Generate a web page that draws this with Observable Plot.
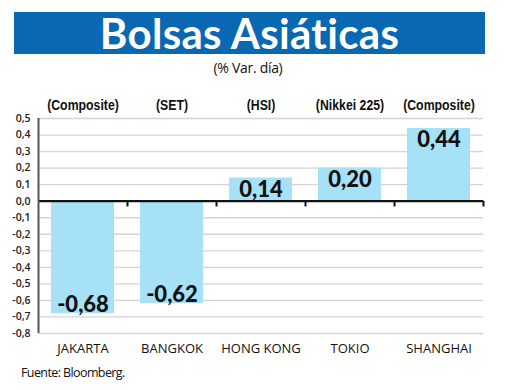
<!DOCTYPE html>
<html><head><meta charset="utf-8">
<script src="https://cdn.jsdelivr.net/npm/d3@7"></script>
<script src="https://cdn.jsdelivr.net/npm/@observablehq/plot@0.6"></script>
<style>
body{margin:0;background:#fff;}
#wrap{position:relative;width:520px;height:390px;overflow:hidden;font-family:"Open Sans",sans-serif;}
#banner{position:absolute;left:14px;top:12px;width:471px;height:42px;background:#0a68b2;color:#fff;text-align:center;font:bold 42px/42px Lato,"Open Sans",sans-serif;letter-spacing:0.3px;}
#sub{position:absolute;left:0;width:496px;top:58px;text-align:center;font:14px "Open Sans",sans-serif;color:#111;letter-spacing:-0.3px;}
#chart{position:absolute;left:0;top:80px;}
#src{position:absolute;left:21px;top:364px;font:12.5px "Open Sans",sans-serif;letter-spacing:-0.6px;color:#111;}
</style></head>
<body><div id="wrap">
<div id="banner">Bolsas Asiáticas</div>
<div id="sub">(% Var. día)</div>
<div id="chart"></div>
<div id="src">Fuente: Bloomberg.</div>
</div>
<script>
const markets = ["JAKARTA","BANGKOK","HONG KONG","TOKIO","SHANGHAI"];
const indices = ["(Composite)","(SET)","(HSI)","(Nikkei 225)","(Composite)"];
const values = [-0.68,-0.62,0.14,0.20,0.44];
const yTicks = [0.5,0.4,0.3,0.2,0.1,0,-0.1,-0.2,-0.3,-0.4,-0.5,-0.6,-0.7,-0.8];

const data = markets.map((m,i)=>({market:m, index:indices[i], value:values[i]}));
const fmt = v => (v<0?"-":"") + Math.abs(v).toFixed(1).replace(".",",");
const fmt2 = v => (v<0?"-":"") + Math.abs(v).toFixed(2).replace(".",",");

const W=520, ML=38, MR=37;
const band=(W-ML-MR)/markets.length;
const valFont = {fontSize:22, fontWeight:"900", fill:"#111", fontFamily:"Lato,sans-serif"};

const chart = Plot.plot({
  width: W, height: 282,
  marginLeft: ML, marginRight: MR, marginTop: 38, marginBottom: 29,
  style:{fontFamily:"'Open Sans',sans-serif", background:"transparent"},
  x:{domain: markets, paddingInner:0, paddingOuter:0},
  y:{domain:[-0.8,0.5]},
  marks:[
    Plot.gridY(yTicks,{stroke:"#d4d4d4", strokeOpacity:1, strokeWidth:1.3}),
    Plot.barY(data,{x:"market", y:"value", fill:"#a6e1f7", insetLeft:13, insetRight:13}),
    Plot.ruleX(markets,{x:d=>d, dx:band/2, y1:0, y2:-0.035, stroke:"#111", strokeWidth:2}),
    Plot.ruleY([0],{stroke:"#111", strokeWidth:2.2}),
    Plot.ruleX([markets[0]],{x:d=>d, dx:-band/2, y1:-0.8, y2:0.5, stroke:"#555", strokeWidth:2}),
    Plot.axisY({ticks:yTicks, tickFormat:fmt, tickSize:0, tickPadding:8, fontSize:10.5, fontWeight:"600", label:null, fill:"#222"}),
    Plot.axisX({tickSize:0, tickPadding:10, fontSize:13, label:null, fill:"#111", fontFamily:"'Open Sans',sans-serif"}),
    Plot.text(data,{x:"market", frameAnchor:"top", text:"index", dy:-19, fontSize:15, fontWeight:"bold", fill:"#111", fontFamily:"'Liberation Sans Narrow','Arial Narrow',sans-serif", className:"idxlab"}),
    Plot.text(data.filter(d=>d.value>=0),{x:"market", y:"value", text:d=>fmt2(d.value), dy:12, ...valFont}),
    Plot.text(data.filter(d=>d.value<0),{x:"market", y:"value", text:d=>fmt2(d.value), dy:-9, ...valFont})
  ]
});
d3.select(chart).selectAll(".idxlab text").each(function(){
  const t = this.getAttribute("transform") || "";
  this.setAttribute("transform", t + " scale(0.82,1)");
});
document.getElementById("chart").append(chart);
</script>
</body></html>
